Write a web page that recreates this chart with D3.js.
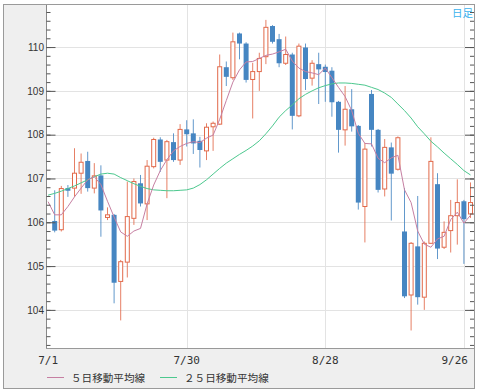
<!DOCTYPE html>
<meta charset="utf-8">
<script src="https://d3js.org/d3.v7.min.js"></script>
<style>
  body { margin: 0; background: #fff; }
  .ylab text { font: 10px "Liberation Sans", Arial, sans-serif; fill: #333; }
  .xlab { font: 11px "DejaVu Sans Mono", monospace; fill: #333; }
  .cjk { font-family: "Noto Sans CJK JP", sans-serif; }
</style>

<svg id="chart" width="478" height="392"></svg>

<script>

// trading days (first label 7/1 has no candle in the picture)
const dates = [
  "7/1","7/2","7/3","7/4","7/5","7/8","7/9","7/10","7/11","7/12","7/15","7/16","7/17","7/18","7/19",
  "7/22","7/23","7/24","7/25","7/26","7/29","7/30","7/31",
  "8/1","8/2","8/5","8/6","8/7","8/8","8/9","8/12","8/13","8/14","8/15","8/16","8/19","8/20","8/21",
  "8/22","8/23","8/26","8/27","8/28","8/29","8/30",
  "9/2","9/3","9/4","9/5","9/6","9/9","9/10","9/11","9/12","9/13","9/16","9/17","9/18","9/19","9/20",
  "9/23","9/24","9/25","9/26","9/27"
];

const open = [null,
  106.03,105.83,106.78,106.78,107.12,107.40,106.78,107.07,106.11,106.17,104.65,105.09,106.09,106.89,106.42,
  107.27,107.89,107.42,107.83,107.42,108.12,108.03,107.86,107.63,108.18,108.24,109.54,109.30,110.31,110.08,
  109.26,109.44,109.78,110.48,110.18,109.63,109.83,108.43,109.99,109.29,109.61,109.55,109.46,108.75,108.11,
  108.58,108.20,106.36,108.93,108.11,106.76,107.71,107.21,105.79,104.34,105.45,104.29,105.52,106.87,105.43,
  105.81,106.15,106.48,106.19];
const high = [null,
  106.73,106.83,106.85,107.69,107.57,107.61,107.35,107.30,106.34,106.19,105.14,106.93,107.00,107.08,107.42,
  107.93,107.94,107.88,108.03,108.24,108.33,108.35,107.95,108.26,108.30,109.83,109.67,110.33,110.33,110.11,
  109.64,109.87,110.62,110.50,110.30,110.24,109.87,110.08,110.08,109.70,109.87,109.60,109.54,108.77,109.11,
  109.04,108.22,107.81,109.02,108.13,107.90,107.82,107.96,106.78,105.55,106.60,105.56,107.94,107.12,106.02,
  106.51,106.98,106.51,106.91];
const low = [null,
  105.77,105.79,106.58,106.58,106.65,106.70,106.66,105.67,106.05,104.15,103.76,104.74,105.94,106.36,106.05,
  107.23,107.15,106.55,107.38,107.31,107.73,107.56,107.25,107.42,107.63,108.22,109.11,109.25,109.72,109.19,
  108.37,109.00,109.61,110.08,109.54,109.59,108.12,108.40,109.02,109.12,108.70,108.75,108.41,107.59,107.75,
  108.07,106.29,105.54,107.73,106.68,106.59,106.04,107.18,104.27,103.53,104.12,104.00,105.51,105.16,105.39,
  105.31,105.49,105.05,106.10];
const close = [null,
  105.81,106.77,106.72,107.12,107.37,106.78,107.06,106.27,106.17,104.62,105.10,106.13,106.93,106.43,107.28,
  107.89,107.38,107.84,107.42,108.12,108.01,107.80,107.65,108.17,108.26,109.55,109.32,110.12,110.08,109.25,
  109.44,109.74,110.45,110.12,109.63,109.83,108.43,110.02,109.27,109.63,109.49,109.43,108.74,108.11,108.58,
  108.19,106.45,107.67,108.11,106.74,107.71,107.11,107.93,104.31,105.52,104.29,105.52,107.39,105.40,105.77,
  106.15,106.45,106.07,106.45];

// moving averages
const ma5 = [
  106.47,106.17,106.17,106.36,106.58,106.78,106.97,107.04,106.86,106.48,106.12,105.78,105.68,105.80,105.86,
  106.42,106.85,107.18,107.43,107.63,107.73,107.80,107.84,107.82,107.92,107.99,108.35,108.78,109.20,109.48,
  109.66,109.67,109.74,109.81,109.84,109.89,109.95,109.68,109.52,109.44,109.41,109.37,109.52,109.30,109.08,
  108.87,108.55,108.03,107.80,107.79,107.46,107.36,107.47,107.53,106.74,106.45,105.80,105.50,105.43,105.62,
  105.68,106.06,106.23,105.98,106.16];
const ma25 = [
  106.62,106.66,106.71,106.77,106.83,106.90,106.97,107.04,107.10,107.12,107.10,107.02,106.95,106.88,106.82,
  106.77,106.74,106.73,106.72,106.72,106.73,106.74,106.78,106.86,106.97,107.10,107.23,107.35,107.45,107.55,
  107.64,107.74,107.86,108.02,108.20,108.40,108.55,108.68,108.82,108.92,109.00,109.07,109.12,109.16,109.18,
  109.18,109.17,109.15,109.13,109.08,109.03,108.95,108.85,108.70,108.55,108.38,108.18,108.02,107.85,107.72,
  107.58,107.45,107.32,107.18,107.08];

const yTicks = [104, 105, 106, 107, 108, 109, 110];
const xTickDates = ["7/1", "7/30", "8/28", "9/26"];
const legendLabels = ["５日移動平均線", "２５日移動平均線"];

const upColor = "#e2694a", downColor = "#4686c2";
const ma5Color = "#c67fa2", ma25Color = "#4cc88e";

// The svg
const svg = d3.select("#chart");
const plot = {left: 46, top: 5, right: 474, bottom: 348};

// outer panel
svg.append("rect")
  .attr("x", 3.5).attr("y", 4.5).attr("width", 471).attr("height", 384)
  .attr("fill", "#efefef").attr("stroke", "#9a9a9a");
svg.append("rect")
  .attr("x", plot.left).attr("y", plot.top)
  .attr("width", plot.right - plot.left).attr("height", plot.bottom - plot.top)
  .attr("fill", "#fff");

svg.append("clipPath").attr("id", "clip")
  .append("rect")
  .attr("x", plot.left).attr("y", plot.top)
  .attr("width", plot.right - plot.left).attr("height", plot.bottom - plot.top);

// scales
const x = d3.scaleLinear().domain([0, dates.length - 1]).range([48.1, 470.5]);
const y = d3.scaleLinear().domain([103.13, 110.96]).range([plot.bottom, plot.top]);

const xTickIdx = xTickDates.map(d => dates.indexOf(d));

// grid
svg.append("g").selectAll("line")
  .data(yTicks).enter().append("line")
  .attr("x1", plot.left).attr("x2", plot.right)
  .attr("y1", d => Math.round(y(d)) + 0.5).attr("y2", d => Math.round(y(d)) + 0.5)
  .attr("stroke", "#e3e3e3");
svg.append("g").selectAll("line")
  .data(xTickIdx.filter(i => i > 0)).enter().append("line")
  .attr("x1", d => Math.round(x(d)) + 0.5).attr("x2", d => Math.round(x(d)) + 0.5)
  .attr("y1", plot.top).attr("y2", plot.bottom)
  .attr("stroke", "#e3e3e3");

// candles
const candles = dates.map((d, i) => ({i: i, o: open[i], h: high[i], l: low[i], c: close[i]}))
  .filter(d => d.o != null);

const cg = svg.append("g").attr("clip-path", "url(#clip)");

cg.selectAll(".wick")
  .data(candles).enter().append("path")
  .attr("class", "wick")
  .attr("d", d => {
    const cx = x(d.i);
    if (d.c >= d.o) {
      return "M" + cx + "," + y(d.h) + "V" + y(d.c) + "M" + cx + "," + y(d.o) + "V" + y(d.l);
    }
    return "M" + cx + "," + y(d.h) + "V" + y(d.l);
  })
  .attr("stroke", d => d.c >= d.o ? upColor : downColor)
  .attr("stroke-opacity", 0.85)
  .attr("fill", "none");

cg.selectAll(".body")
  .data(candles).enter().append("rect")
  .attr("class", "body")
  .attr("x", d => d.c >= d.o ? x(d.i) - 2 : x(d.i) - 2.5)
  .attr("width", d => d.c >= d.o ? 4 : 5)
  .attr("y", d => y(Math.max(d.o, d.c)))
  .attr("height", d => Math.max(1, Math.abs(y(d.o) - y(d.c))))
  .attr("fill", d => d.c >= d.o ? "#fff" : downColor)
  .attr("stroke", d => d.c >= d.o ? upColor : "none");

// moving average lines
const line = d3.line().x((d, i) => x(i)).y(d => y(d));
cg.append("path").datum(ma25)
  .attr("d", line).attr("fill", "none")
  .attr("stroke", ma25Color).attr("stroke-width", 1);
cg.append("path").datum(ma5)
  .attr("d", line).attr("fill", "none")
  .attr("stroke", ma5Color).attr("stroke-width", 1);

// axis lines
svg.append("line")
  .attr("x1", plot.left + 0.5).attr("x2", plot.left + 0.5)
  .attr("y1", plot.top).attr("y2", plot.bottom)
  .attr("stroke", "#888");
svg.append("line")
  .attr("x1", plot.left).attr("x2", plot.right)
  .attr("y1", plot.bottom + 0.5).attr("y2", plot.bottom + 0.5)
  .attr("stroke", "#999");

// ticks, inward on both sides
const minor = y.ticks(40);
function tickAxis(axis, tx, size, vals) {
  const g = svg.append("g").attr("transform", "translate(" + tx + ",0)")
    .call(axis(y).tickValues(vals).tickSize(size).tickFormat(""));
  g.select(".domain").remove();
  g.selectAll("line").attr("stroke", "#555");
}
tickAxis(d3.axisRight, plot.left + 0.5, 4, minor);
tickAxis(d3.axisRight, plot.left + 0.5, 9, yTicks);
tickAxis(d3.axisLeft, plot.right, 4, minor);
tickAxis(d3.axisLeft, plot.right, 9, yTicks);

// y labels
const yl = svg.append("g").attr("class", "ylab")
  .attr("transform", "translate(" + plot.left + ",0)")
  .call(d3.axisLeft(y).tickValues(yTicks).tickSize(0).tickPadding(2).tickFormat(d3.format("d")));
yl.select(".domain").remove();

// x labels
svg.append("g").selectAll("text")
  .data(xTickIdx).enter().append("text")
  .attr("class", "xlab")
  .attr("x", d => x(d)).attr("y", 364)
  .attr("text-anchor", "middle")
  .text(d => dates[d])
  .each(function() {
    const b = this.getBBox();
    const over = b.x + b.width - (plot.right - 6);
    if (over > 0) d3.select(this).attr("x", +d3.select(this).attr("x") - over);
  });

// 日足 label
svg.append("text")
  .attr("class", "cjk")
  .attr("x", plot.right - 1).attr("y", 16.5)
  .attr("text-anchor", "end")
  .attr("font-size", 10.5)
  .attr("fill", "#3ab2ee")
  .text("日足");

// legend
const legend = svg.append("g");
const legendItems = [
  {label: legendLabels[0], color: ma5Color, x: 47},
  {label: legendLabels[1], color: ma25Color, x: 160}
];
legendItems.forEach(function(it) {
  legend.append("line")
    .attr("x1", it.x).attr("x2", it.x + 17)
    .attr("y1", 377.5).attr("y2", 377.5)
    .attr("stroke", it.color);
  legend.append("text")
    .attr("class", "cjk")
    .attr("x", it.x + 24).attr("y", 382)
    .attr("font-size", 10.6)
    .attr("fill", "#333")
    .text(it.label);
});

</script>
